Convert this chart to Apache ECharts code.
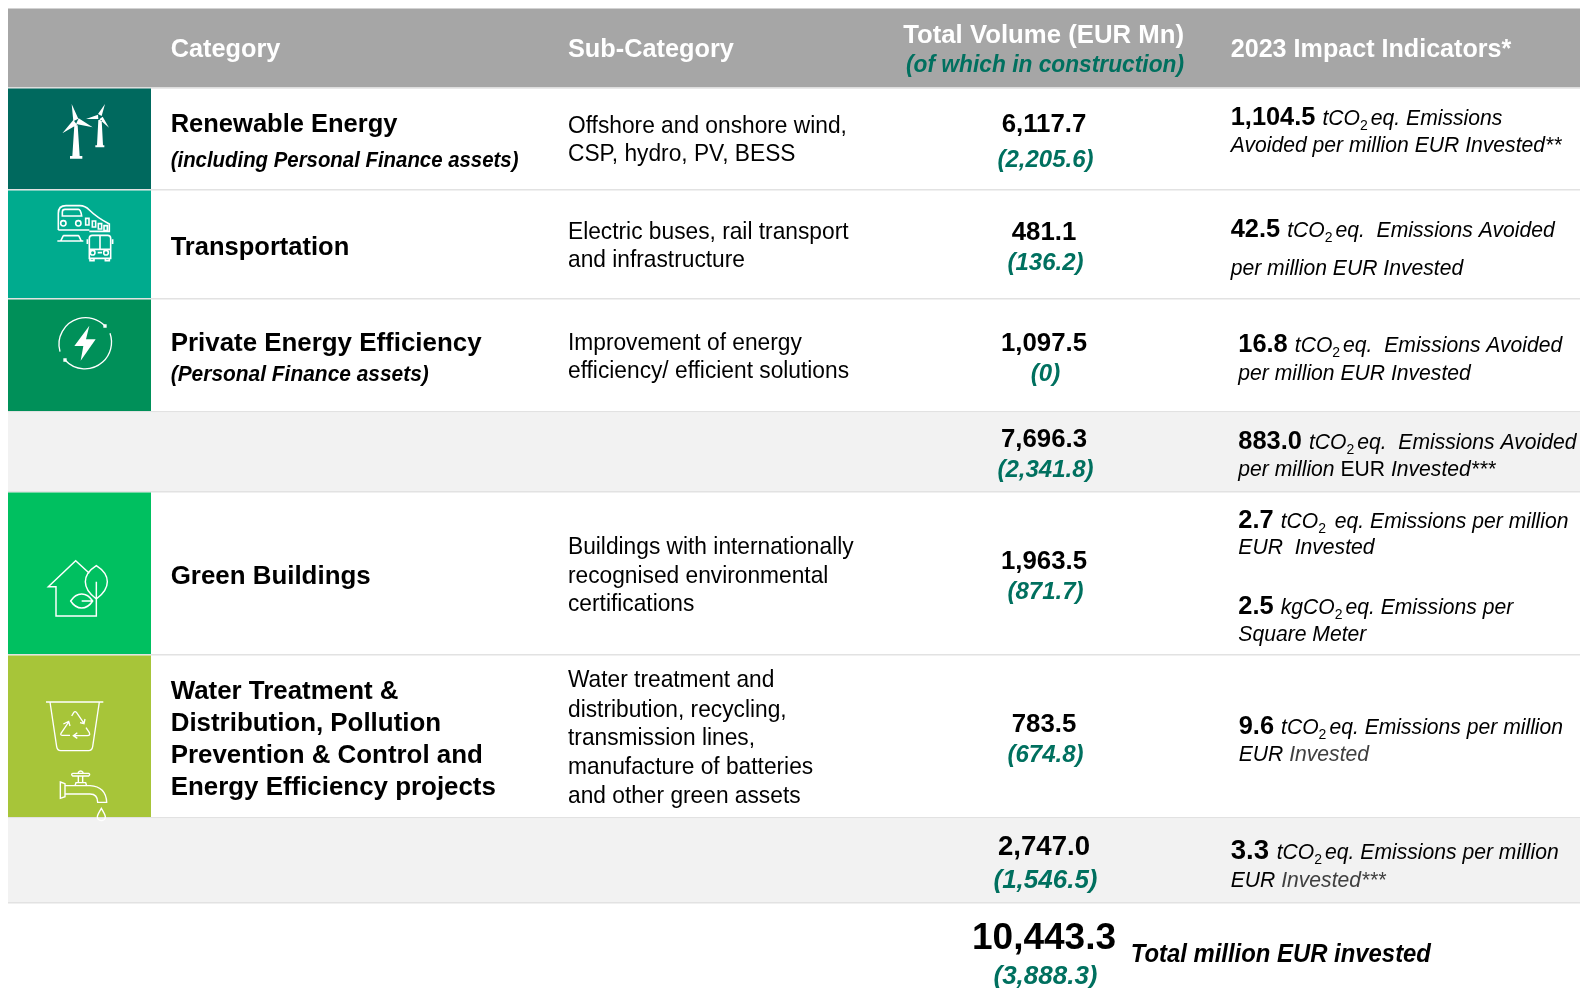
<!DOCTYPE html>
<html>
<head>
<meta charset="utf-8">
<title>Use of proceeds</title>
<script src="https://cdn.jsdelivr.net/npm/echarts@6/dist/echarts.min.js"></script>
<style>
html,body{margin:0;padding:0;background:#fff}
#chart{width:1580px;height:988px}
</style>
</head>
<body>
<div id="chart"></div>
<script>
// table content, row order: three projects, subtotal, two projects, subtotal, total
var headers = ['Category', 'Sub-Category', 'Total Volume (EUR Mn)', '(of which in construction)', '2023 Impact Indicators*'];
var categories = [
    ['Renewable Energy'],
    ['Transportation'],
    ['Private Energy Efficiency'],
    ['Green Buildings'],
    ['Water Treatment &', 'Distribution, Pollution', 'Prevention & Control and', 'Energy Efficiency projects']
];
var categoryNotes = ['(including Personal Finance assets)', '', '(Personal Finance assets)', '', ''];
var subCategories = [
    ['Offshore and onshore wind,', 'CSP, hydro, PV, BESS'],
    ['Electric buses, rail transport', 'and infrastructure'],
    ['Improvement of energy', 'efficiency/ efficient solutions'],
    ['Buildings with internationally', 'recognised environmental', 'certifications'],
    ['Water treatment and', 'distribution, recycling,', 'transmission lines,', 'manufacture of batteries', 'and other green assets']
];
var totalVolume = [6117.7, 481.1, 1097.5, 7696.3, 1963.5, 783.5, 2747.0, 10443.3];
var inConstruction = [2205.6, 136.2, 0, 2341.8, 871.7, 674.8, 1546.5, 3888.3];
var impactValues = [1104.5, 42.5, 16.8, 883.0, 2.7, 2.5, 9.6, 3.3];
var impactUnits = ['tCO', 'tCO', 'tCO', 'tCO', 'tCO', 'kgCO', 'tCO', 'tCO'];
var impactLine1 = ['eq. Emissions', 'eq.  Emissions Avoided', 'eq.  Emissions Avoided', 'eq.  Emissions Avoided', ' eq. Emissions per million', 'eq. Emissions per', 'eq. Emissions per million', 'eq. Emissions per million'];
var impactLine2 = ['Avoided per million EUR Invested**', 'per million EUR Invested', 'per million EUR Invested', 'per million EUR Invested***', 'EUR  Invested', 'Square Meter', 'EUR Invested', 'EUR Invested***'];
var totalLabel = 'Total million EUR invested';

// layout
var FONT = '"Liberation Sans", Arial, sans-serif';
var TEAL = '#00705f';
var rowBands = [[8.5, 87.5], [88.5, 189], [190.5, 298], [299.5, 411], [412.5, 491], [492.5, 654], [655.5, 817], [818.5, 902]];
var ruleYs = [88, 189.8, 298.8, 411.8, 491.8, 654.8, 817.8, 902.8];
var bandColors = ['#a6a6a6', null, null, null, '#f2f2f2', null, null, '#f2f2f2'];
var iconColors = { 1: '#00695e', 2: '#00ab8e', 3: '#009059', 5: '#00c060', 6: '#a7c539' };
var catY = [[132.3], [255], [350.7], [584], [699, 731, 763, 795]];
var catSize = [25.5, 25.5, 25.9, 25.9, 25.9];
var noteY = [166.7, 0, 381, 0, 0];
var noteScale = [0.948, 1, 0.973, 1, 1];
var subY = [[133, 161], [239, 267], [350, 378], [554, 583, 611], [687, 717, 745.5, 774, 803]];
var volY = [132.2, 240, 351.2, 447.2, 569, 731.7, 855, 949.4];
var consY = [166.7, 270.4, 381.2, 476.8, 599.2, 761.7, 887.6, 984];
var volSize = [25.8, 25.8, 25.8, 25.8, 25.8, 25.8, 27.6, 37];
var consSize = [24, 24, 24, 24, 24, 24, 26, 26];
var impX = [1230.7, 1230.7, 1238.3, 1238.3, 1238.3, 1238.3, 1238.7, 1230.7];
var impY1 = [125.2, 237, 352.2, 449, 528, 614, 733.6, 859];
var impY2 = [152, 275, 380, 476, 554.3, 641, 761, 886.7];
var impValSize = [25.4, 25.4, 25.4, 25.4, 25.4, 25.4, 25.4, 27.6];
var ITALIC_SCALE = 0.935;

function font(size, bold, italic) {
    return (italic ? 'italic ' : '') + (bold ? 'bold ' : '') + size + 'px ' + FONT;
}
function num(v) {
    return v.toLocaleString('en-US', { minimumFractionDigits: 1, maximumFractionDigits: 1 });
}
var measure = document.createElement('canvas').getContext('2d');
function textWidth(str, f) {
    measure.font = f;
    return measure.measureText(str).width;
}

// every text as {x, y, align, runs:[{t, f, c, dy, size, sx, gap}]}
var texts = [];
function add(x, y, align, runs) {
    texts.push({ x: x, y: y, align: align, runs: runs });
}
function run(t, size, bold, italic, color, sx) {
    return { t: t, f: font(size, bold, italic), c: color || '#000', size: size, sx: sx || 1 };
}
function one(t, size, bold, italic, color, sx) {
    return [run(t, size, bold, italic, color, sx)];
}

add(170.7, 57.5, 'left', one(headers[0], 25.3, true, false, '#fff'));
add(568, 57.5, 'left', one(headers[1], 25.3, true, false, '#fff'));
add(1184, 43.2, 'right', one(headers[2], 25.3, true, false, '#fff', 1.018));
add(1184, 72.4, 'right', one(headers[3], 23.5, true, true, TEAL, 0.968));
add(1230.7, 57.5, 'left', one(headers[4], 25.3, true, false, '#fff', 0.993));

categories.forEach(function (lines, r) {
    lines.forEach(function (t, i) {
        add(170.7, catY[r][i], 'left', one(t, catSize[r], true, false));
    });
    if (categoryNotes[r]) {
        add(170.7, noteY[r], 'left', one(categoryNotes[r], 21.5, true, true, '#000', noteScale[r]));
    }
    subCategories[r].forEach(function (t, i) {
        add(568, subY[r][i], 'left', one(t, 24.2, false, false, '#000', 0.94));
    });
});
totalVolume.forEach(function (v, r) {
    var c = inConstruction[r];
    add(1044, volY[r], 'center', one(num(v), volSize[r], true, false));
    add(1045.5, consY[r], 'center', one('(' + (c === 0 ? '0' : num(c)) + ')', consSize[r], true, true, TEAL));
});
function line2Runs(str, r) {
    if (r === 3) {
        // the subtotal row sets EUR upright
        var parts = str.split('EUR');
        return [run(parts[0], 22.6, false, true, '#000', ITALIC_SCALE), run('EUR', 22.6, false, false, '#000', ITALIC_SCALE), run(parts[1], 22.6, false, true, '#000', ITALIC_SCALE)];
    }
    if (r >= 6) {
        return [run('EUR ', 22.6, false, true, '#000', ITALIC_SCALE), run(str.slice(4), 22.6, false, true, '#404040', ITALIC_SCALE)];
    }
    return one(str, 22.6, false, true, '#000', ITALIC_SCALE);
}
impactValues.forEach(function (v, r) {
    var sub = run('2', 14, false, false, '#000', 1);
    sub.dy = 5;
    var rest = run(impactLine1[r], 22.6, false, true, '#000', ITALIC_SCALE);
    rest.gap = 3;
    add(impX[r], impY1[r], 'left', [
        run(num(v) + ' ', impValSize[r], true, false),
        run(impactUnits[r], 22.6, false, true, '#000', ITALIC_SCALE),
        sub,
        rest
    ]);
    add(impX[r], impY2[r], 'left', line2Runs(impactLine2[r], r));
});
add(1130.7, 961.7, 'left', one(totalLabel, 25, true, true, '#000', 0.955));

// icons are drawn in the pixel space of their own crop: origin + scale 1/3
var ICON_A = { x: 30, y: 90 };
var ICON_B = { x: 30, y: 540 };
var iconPaths = [
    // train
    [ICON_A, 'M85,420 V370 Q85,347 108,347 H150 Q165,347 178,360 Q200,382 238,402 V424 H178 M178,420 H85 M97,378 V366 Q97,358 105,358 H145 Q152,358 155,378 Z M167,385 h10 v20 h-10 Z M187,393 h10 v18 h-10 Z M205,401 h10 v16 h-10 Z M222,407 h10 v15 h-10 Z M82,453 H160 M100,437 L92,453 M146,437 L154,453 M100,437 H146', 4.8],
    [ICON_A, 'M92,400 a8,8 0 1 0 16,0 a8,8 0 1 0 -16,0 M137,400 a8,8 0 1 0 16,0 a8,8 0 1 0 -16,0', 4.8],
    // bus
    [ICON_A, 'M178,445 Q178,436 187,436 H233 Q242,436 242,445 V505 H178 Z M210,436 V478 M178,478 H242 M181,488 a7,7 0 1 0 14,0 a7,7 0 1 0 -14,0 M221,488 a7,7 0 1 0 14,0 a7,7 0 1 0 -14,0 M203,488 H216 M172,448 V462 M248,448 V462 M180,505 V512 H192 V505 M226,505 V512 H238 V505', 4.8],
    // energy ring
    [ICON_A, 'M105,810 A80,80 0 0 0 240,730 M90,785 A80,80 0 0 1 225,708', 4],
    // house and leaves
    [ICON_B, 'M178,100 L137,62 L55,140 H78 V228 H199 V178 M199,77 C155,105 155,145 199,177 C243,145 243,105 199,77 Z M199,125 V228 M122,183 C140,155 170,155 188,183 C170,211 140,211 122,183 Z M155,183 H188', 4.4],
    // bin and recycling arrows
    [ICON_B, 'M48,486 H220 M60,486 L80,620 Q82,632 92,632 H176 Q186,632 188,620 L208,486 M125,528 L131,518 Q135,512 140,518 L162,550 M150,548 L162,551 L165,537 M116,546 L93,580 Q90,586 98,586 H120 M100,552 L116,544 L120,558 M132,587 H172 Q182,587 178,578 L168,563 M142,578 L130,587 L142,595', 4],
    // tap
    [ICON_B, 'M91,726 L105,731 V770 L91,775 Z M105,737 H180 Q228,740 230,787 H203 Q203,762 180,762 H105 M135,737 L138,728 H167 L170,737 M145,708 V728 M158,708 V728 M128,700 H176 Q182,703 176,708 H128 Q122,703 128,700 M144,698 Q152,688 160,698 M214,805 C205,820 202,828 202,830 A12,12 0 0 0 226,830 C226,828 223,820 214,805 Z', 4.2],
    // turbines
    [ICON_A, 'M125,42 L145,86 L130,94 Z M97,130 L130,90 L141,104 Z M188,112 L146,85 L138,102 Z M133,106 H143 L149,198 H157 V206 H120 V198 H127 Z', 0],
    [ICON_A, 'M225,42 L204,72 L215,78 Z M168,87 L204,74 L205,87 Z M237,113 L218,80 L208,88 Z M205,90 H215 L219,166 H223 V172 H196 V166 H201 Z', 0],
    // bolt and ring ends
    [ICON_A, 'M178,707 L133,768 H160 L152,812 L197,748 H168 Z M220,703 h10 v10 h-10 Z M100,805 h10 v10 h-10 Z', 0]
];

function renderIcon(params, api) {
    var d = iconPaths[api.value(0)];
    var o = api.coord([d[0].x, d[0].y]);
    return {
        type: 'path', x: o[0], y: o[1], scaleX: 1 / 3, scaleY: 1 / 3,
        shape: { pathData: d[1] },
        style: d[2] ? { fill: 'none', stroke: '#fff', lineWidth: d[2] } : { fill: '#fff' }
    };
}

function renderBand(params, api) {
    var r = api.value(0);
    var tl = api.coord([8, rowBands[r][0]]);
    var br = api.coord([1580, rowBands[r][1]]);
    var kids = [];
    if (bandColors[r]) {
        kids.push({ type: 'rect', shape: { x: tl[0], y: tl[1], width: br[0] - tl[0], height: br[1] - tl[1] }, style: { fill: bandColors[r] } });
    }
    if (iconColors[r]) {
        var right = api.coord([151, 0])[0];
        kids.push({ type: 'rect', shape: { x: tl[0], y: tl[1], width: right - tl[0], height: br[1] - tl[1] }, style: { fill: iconColors[r] } });
    }
    var rule = api.coord([8, ruleYs[r]]);
    kids.push({ type: 'line', shape: { x1: rule[0], y1: rule[1], x2: br[0], y2: rule[1] }, style: { stroke: '#e2e2e2', lineWidth: 1.6 } });
    return { type: 'group', children: kids };
}

function renderText(params, api) {
    var item = texts[api.value(2)];
    var p = api.coord([api.value(0), api.value(1)]);
    var total = 0;
    item.runs.forEach(function (r) { total += textWidth(r.t, r.f) * r.sx + (r.gap || 0); });
    var x = p[0];
    if (item.align === 'right') { x -= total; }
    if (item.align === 'center') { x -= total / 2; }
    var kids = item.runs.map(function (r) {
        x += r.gap || 0;
        // zrender draws from the middle of the em box, the picture was read at the baseline
        var el = {
            type: 'text',
            x: x, y: p[1] + (r.dy || 0) - r.size * 0.2765,
            scaleX: r.sx,
            style: { x: 0, y: 0, text: r.t, font: r.f, fill: r.c, align: 'left', verticalAlign: 'middle' }
        };
        x += textWidth(r.t, r.f) * r.sx;
        return el;
    });
    return { type: 'group', children: kids };
}

var chart = echarts.init(document.getElementById('chart'));
chart.setOption({
    animation: false,
    backgroundColor: '#fff',
    grid: { left: 0, right: 0, top: 0, bottom: 0 },
    xAxis: { type: 'value', min: 0, max: 1580, show: false },
    yAxis: { type: 'value', min: 0, max: 988, inverse: true, show: false },
    series: [
        {
            type: 'custom', silent: true, clip: false, z: 1,
            data: rowBands.map(function (b, i) { return [i]; }),
            renderItem: renderBand
        },
        {
            type: 'custom', silent: true, clip: false, z: 3,
            data: iconPaths.map(function (b, i) { return [i]; }),
            renderItem: renderIcon
        },
        {
            type: 'custom', silent: true, clip: false, z: 5,
            data: texts.map(function (t, i) { return [t.x, t.y, i]; }),
            renderItem: renderText
        }
    ]
});
</script>
</body>
</html>
